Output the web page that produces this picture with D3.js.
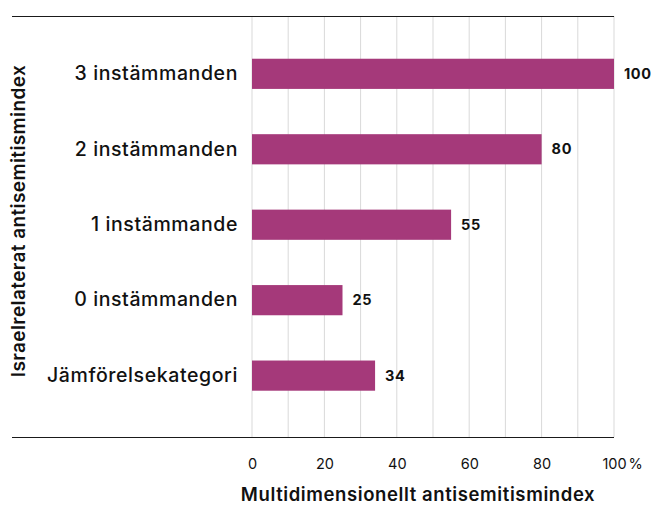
<!DOCTYPE html>
<html>
<head>
<meta charset="utf-8">
<script src="https://cdn.jsdelivr.net/npm/d3@7"></script>
<style>
  body { margin: 0; background: #fff; }
  svg { display: block; font-family: "Inter", "Open Sans", sans-serif; }
</style>
</head>
<body>
<svg width="654" height="506"></svg>
<script>
// Chart data
const categories = [
  "3 instämmanden",
  "2 instämmanden",
  "1 instämmande",
  "0 instämmanden",
  "Jämförelsekategori",
];
const values = [100, 80, 55, 25, 34];
const tickValues = [0, 20, 40, 60, 80, 100];
const gridValues = [0, 10, 20, 30, 40, 50, 60, 70, 80, 90, 100];
const xTitle = "Multidimensionellt antisemitismindex";
const yTitle = "Israelrelaterat antisemitismindex";

const dims = {
  left: 252,
  right: 614,
  top: 16,
  bottom: 437,
  lineStart: 12,
};

const barColor = "#a5397a";
const svg = d3.select("svg");

const xScale = d3.scaleLinear().domain([0, 100]).range([dims.left, dims.right]);

const yScale = d3
  .scaleBand()
  .domain(categories)
  .range([dims.top, dims.bottom])
  .paddingInner(0.6)
  .paddingOuter(0.59)
  .align(0.48);

// vertical gridlines
svg
  .append("g")
  .selectAll("line")
  .data(gridValues)
  .enter()
  .append("line")
  .attr("x1", (d) => xScale(d))
  .attr("x2", (d) => xScale(d))
  .attr("y1", dims.top)
  .attr("y2", dims.bottom)
  .attr("stroke", "#d9d9d9")
  .attr("stroke-width", 1);

// top and bottom rules
[dims.top, dims.bottom].forEach((y) => {
  svg
    .append("line")
    .attr("x1", dims.lineStart)
    .attr("x2", dims.right)
    .attr("y1", y + 0.5)
    .attr("y2", y + 0.5)
    .attr("stroke", "#1a1a1a")
    .attr("stroke-width", 1.2);
});

// bars
svg
  .append("g")
  .selectAll("rect")
  .data(values)
  .enter()
  .append("rect")
  .attr("x", xScale(0))
  .attr("y", (d, i) => yScale(categories[i]))
  .attr("width", (d) => xScale(d) - xScale(0))
  .attr("height", yScale.bandwidth())
  .attr("fill", barColor);

// value labels
svg
  .append("g")
  .selectAll("text")
  .data(values)
  .enter()
  .append("text")
  .attr("x", (d) => xScale(d) + 10)
  .attr("y", (d, i) => yScale(categories[i]) + yScale.bandwidth() / 2)
  .attr("dy", "0.35em")
  .attr("font-size", 14.5)
  .attr("font-weight", 700)
  .attr("letter-spacing", 0.6)
  .attr("fill", "#111")
  .text((d) => d);

// category labels
const yAxis = d3.axisLeft(yScale).tickSize(0).tickPadding(14);
const yAxisG = svg
  .append("g")
  .attr("transform", "translate(" + dims.left + ",0)")
  .call(yAxis);
yAxisG.select(".domain").remove();
yAxisG
  .selectAll("text")
  .attr("font-size", 19.5)
  .attr("font-weight", 500)
  .attr("letter-spacing", 0.6)
  .attr("font-family", "Inter, sans-serif")
  .attr("fill", "#111");

// x axis ticks
const xAxis = d3.axisBottom(xScale).tickValues(tickValues).tickSize(0).tickPadding(0);
const xAxisG = svg
  .append("g")
  .attr("transform", "translate(0," + (dims.bottom + 27) + ")")
  .call(xAxis);
xAxisG.select(".domain").remove();
xAxisG
  .selectAll("text")
  .attr("dy", "0.35em")
  .attr("font-size", 14.5)
  .attr("font-family", "Inter, sans-serif")
  .attr("fill", "#111");

// percent sign after the last tick
const lastTick = xAxisG.selectAll(".tick").filter((d) => d === 100);
const lastWidth = lastTick.select("text").node().getComputedTextLength();
lastTick
  .append("text")
  .attr("x", lastWidth / 2 + 2)
  .attr("y", 0)
  .attr("dy", "0.35em")
  .attr("text-anchor", "start")
  .attr("font-size", 14.5)
  .attr("font-family", "Inter, sans-serif")
  .attr("fill", "#111")
  .text("%");

// axis titles
svg
  .append("text")
  .attr("x", 418)
  .attr("y", 495)
  .attr("dy", "0.35em")
  .attr("text-anchor", "middle")
  .attr("font-size", 18.5)
  .attr("font-weight", 600)
  .attr("letter-spacing", 0.6)
  .attr("fill", "#111")
  .text(xTitle);

svg
  .append("text")
  .attr("transform", "translate(18,221) rotate(-90)")
  .attr("dy", "0.35em")
  .attr("text-anchor", "middle")
  .attr("font-size", 19)
  .attr("font-weight", 600)
  .attr("letter-spacing", 0.4)
  .attr("fill", "#111")
  .text(yTitle);
</script>
</body>
</html>
